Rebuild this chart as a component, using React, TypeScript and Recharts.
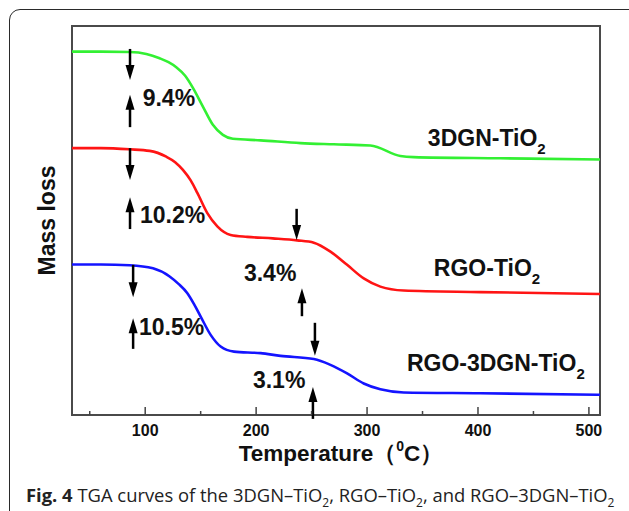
import React from 'react';
import { LineChart, Line, XAxis, YAxis, ReferenceLine, ReferenceDot, ReferenceArea } from 'recharts';

// ---- data (temperature in °C, mass in arbitrary offset units) ----
const temps3DGN = [34, 60, 86, 101, 113, 121, 128, 136, 143, 152, 161, 170, 179, 204, 240, 270, 303, 330, 342, 420, 510];
const mass3DGN = [93.4, 93.4, 93.3, 92.8, 91.7, 90.7, 89.4, 87.2, 84.1, 79.3, 74.6, 72.0, 71.0, 70.6, 69.9, 69.6, 69.3, 66.6, 66.3, 66.0, 65.7];

const tempsRGO = [34, 60, 86, 104, 119, 127, 134, 141, 147, 156, 165, 177, 192, 215, 237, 252, 267, 282, 297, 312, 333, 402, 510];
const massRGO = [68.6, 68.6, 68.3, 67.9, 66.4, 65.0, 63.0, 60.3, 57.1, 51.9, 48.5, 46.3, 45.8, 45.4, 44.9, 44.3, 42.0, 38.6, 35.1, 33.0, 32.0, 31.6, 31.1];

const tempsRGO3DGN = [34, 60, 86, 107, 122, 130, 138, 144, 150, 159, 168, 180, 204, 222, 252, 267, 282, 297, 312, 333, 402, 510];
const massRGO3DGN = [38.7, 38.7, 38.5, 37.7, 35.6, 33.7, 31.3, 28.5, 25.3, 20.6, 17.6, 16.3, 15.9, 15.2, 14.4, 12.9, 10.7, 8.1, 6.6, 5.8, 5.6, 5.2];

const seriesNames = ['3DGN-TiO', 'RGO-TiO', 'RGO-3DGN-TiO'];
const seriesColors = ['#33f033', '#ff1414', '#1414ff'];
const seriesLabelTemps = [354.8, 360.2, 335.9];
const seriesLabelMass = [71.2, 37.8, 13.4];

const xTicks = [50, 100, 150, 200, 250, 300, 350, 400, 450, 500];

// annotation arrows: from -> to (arrow head at "to")
const arrowTemps = [86.3, 86.3, 86.3, 86.3, 236.5, 241.3, 89.1, 89.1, 253, 251.2];
const arrowFrom = [94.1, 74.0, 68.6, 47.8, 53.0, 25.4, 38.6, 17.0, 23.7, -1.0];
const arrowTo = [86.1, 82.3, 60.4, 56.0, 45.0, 32.6, 30.3, 24.9, 15.2, 7.2];

const pctLabels = ['9.4%', '10.2%', '3.4%', '10.5%', '3.1%'];
const pctTemps = [97.7, 95.3, 189, 94.4, 197.1];
const pctMass = [81.5, 51.4, 36.6, 22.7, 9.0];

const FONT = 'Liberation Sans, Arial, Helvetica, sans-serif';

const toPoints = (t: number[], m: number[]) => t.map((x, i) => ({ t: x, m: m[i] }));
const seriesData = [toPoints(temps3DGN, mass3DGN), toPoints(tempsRGO, massRGO), toPoints(tempsRGO3DGN, massRGO3DGN)];

const Tick = (props: any) => {
  const { x, y, payload } = props;
  const major = payload.value % 100 === 0;
  return (
    <g>
      <line x1={x} x2={x} y1={y} y2={y - (major ? 8 : 4)} stroke="#444" strokeWidth={1.5} />
      {major && (
        <text x={x} y={y + 21} textAnchor="middle" fontSize={16} fontWeight="bold" fontFamily={FONT} fill="#111">
          {payload.value}
        </text>
      )}
    </g>
  );
};

const Arrow = (p: any) => {
  const { x1, y1, x2, y2 } = p;
  const dir = y2 > y1 ? 1 : -1;
  const headLen = 15;
  const hw = 4.5;
  const baseY = y2 - dir * headLen;
  return (
    <g>
      <line x1={x1} y1={y1} x2={x2} y2={baseY + dir * 1} stroke="#000" strokeWidth={2.5} />
      <polygon points={`${x2 - hw},${baseY} ${x2 + hw},${baseY} ${x2},${y2}`} fill="#000" />
    </g>
  );
};

export default function App() {
  return (
    <div style={{ position: 'absolute', left: 0, top: 0, width: 629, height: 511, overflow: 'hidden', background: '#fff' }}>
      <div
        style={{
          position: 'absolute', left: 9, top: 9, width: 640, height: 530,
          border: '1.5px solid #2a2a2a', borderRadius: 11, boxSizing: 'border-box',
        }}
      />
      <div style={{ position: 'absolute', left: 0, top: 0 }}>
        <LineChart width={629} height={511} margin={{ top: 26, right: 29, bottom: 0, left: 0 }}>
          <XAxis
            type="number"
            dataKey="t"
            domain={[34, 510]}
            ticks={xTicks}
            tick={<Tick />}
            tickSize={0}
            tickMargin={0}
            tickLine={false}
            axisLine={false}
            height={96}
            allowDataOverflow
            label={{
              content: (lp: any) => {
                const vb = lp.viewBox;
                return (
                  <text x={vb.x + vb.width / 2 + 5} y={vb.y + 45.5} textAnchor="middle" fontSize={22.5} fontWeight="bold" fontFamily={FONT} fill="#111">
                    Temperature（<tspan fontSize={14} dy={-10}>0</tspan><tspan dy={10}>C）</tspan>
                  </text>
                );
              },
            }}
          />
          <YAxis
            type="number"
            domain={[0, 100]}
            tick={false}
            tickLine={false}
            axisLine={false}
            width={72}
            allowDataOverflow
            label={{
              content: (lp: any) => {
                const vb = lp.viewBox;
                const cx = vb.x + vb.width - 25;
                const cy = vb.y + vb.height / 2;
                return (
                  <text transform={`translate(${cx},${cy}) rotate(-90)`} textAnchor="middle" dominantBaseline="central" fontSize={23} fontWeight="bold" fontFamily={FONT} fill="#111">
                    Mass loss
                  </text>
                );
              },
            }}
          />
          <ReferenceArea x1={34} x2={510} y1={0} y2={100} fill="none" stroke="#4a4a4a" strokeWidth={2} ifOverflow="visible" />
          {seriesData.map((d, i) => (
            <Line
              key={seriesNames[i]}
              data={d}
              dataKey="m"
              type="monotone"
              stroke={seriesColors[i]}
              strokeWidth={2.6}
              dot={false}
              activeDot={false}
              isAnimationActive={false}
            />
          ))}
          {arrowTemps.map((t, i) => (
            <ReferenceLine
              key={'a' + i}
              segment={[{ x: t, y: arrowFrom[i] }, { x: t, y: arrowTo[i] }]}
              ifOverflow="visible"
              shape={(p: any) => <Arrow {...p} />}
            />
          ))}
          {pctLabels.map((s, i) => (
            <ReferenceDot
              key={'p' + i}
              x={pctTemps[i]}
              y={pctMass[i]}
              r={0}
              ifOverflow="visible"
              shape={(p: any) => (
                <text x={p.cx} y={p.cy} dominantBaseline="central" fontSize={23} fontWeight="bold" fontFamily={FONT} fill="#111">
                  {s}
                </text>
              )}
            />
          ))}
          {seriesNames.map((s, i) => (
            <ReferenceDot
              key={'s' + i}
              x={seriesLabelTemps[i]}
              y={seriesLabelMass[i]}
              r={0}
              ifOverflow="visible"
              shape={(p: any) => (
                <text x={p.cx} y={p.cy + 8} fontSize={23} fontWeight="bold" fontFamily={FONT} fill="#111">
                  {s}
                  <tspan fontSize={15} dy={8}>2</tspan>
                </text>
              )}
            />
          ))}
        </LineChart>
      </div>
      <div
        style={{
          position: 'absolute', left: 26, top: 482, whiteSpace: 'nowrap',
          fontFamily: '"Open Sans", sans-serif', fontSize: 18.4, color: '#222',
        }}
      >
        <b>Fig. 4</b> TGA curves of the 3DGN–TiO<sub style={{ fontSize: 12 }}>2</sub>, RGO–TiO<sub style={{ fontSize: 12 }}>2</sub>, and RGO–3DGN–TiO<sub style={{ fontSize: 12 }}>2</sub>
      </div>
    </div>
  );
}
